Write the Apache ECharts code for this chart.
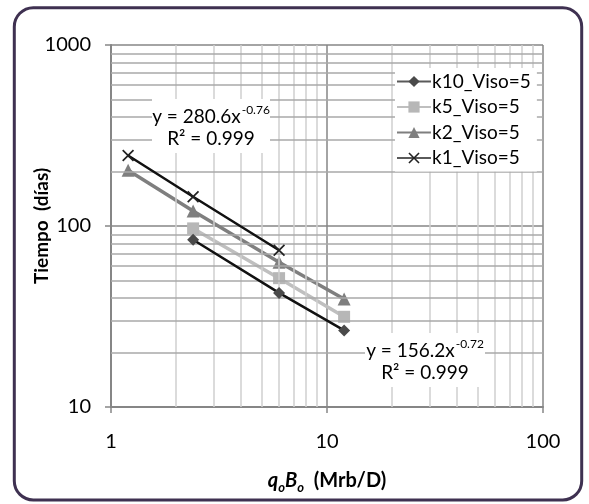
<!DOCTYPE html>
<html><head><meta charset="utf-8">
<script src="https://cdn.jsdelivr.net/npm/echarts@6/dist/echarts.min.js"></script>
<style>html,body{margin:0;padding:0;background:#fff}#c{width:589px;height:504px}</style>
</head><body><div id="c"></div>
<script>
// ---- data ----
const seriesNames = ['k10_Viso=5', 'k5_Viso=5', 'k2_Viso=5', 'k1_Viso=5'];
const xK10 = [2.4, 6, 12];
const yK10 = [84, 42.7, 26.5];
const xK5 = [2.4, 6, 12];
const yK5 = [97, 51.5, 31.5];
const xK2 = [1.2, 2.4, 6, 12];
const yK2 = [203, 121, 63, 39.5];
const xK1 = [1.2, 2.4, 6];
const yK1 = [245, 145, 73.5];
const xMinorTicks = [2,3,4,5,6,7,8,9,20,30,40,50,60,70,80,90];
const yMinorTicks = [20,30,40,50,60,70,80,90,200,300,400,500,600,700,800,900];
const eqTop = ['y = 280.6x', '-0.76', 'R² = 0.999'];
const eqBottom = ['y = 156.2x', '-0.72', 'R² = 0.999'];

const FONT = 'Lato';
const zip = (xs, ys) => xs.map((x, i) => [x, ys[i]]);
const xMark = 'path://M0,1L1,0L5,4L9,0L10,1L6,5L10,9L9,10L5,6L1,10L0,9L4,5Z';

const chart = echarts.init(document.getElementById('c'), null, {renderer: 'canvas'});
const gridSeries = {
  type: 'line', data: [], z: 0, silent: true,
  markLine: {
    silent: true, symbol: 'none', label: {show: false}, animation: false,
    data: [
      ...xMinorTicks.map(v => ({xAxis: v, lineStyle: {color: '#cfcfcf', width: 1.5, type: 'solid'}})),
      ...yMinorTicks.map(v => ({yAxis: v, lineStyle: {color: '#a8a8a8', width: 1.5, type: 'solid'}}))
    ]
  }
};
function eqBox(cx, cy, w, h, t) {
  return [
    {type: 'rect', z: 90, silent: true, shape: {x: cx - w/2, y: cy - h/2, width: w, height: h}, style: {fill: '#fff'}},
    {type: 'text', z: 95, silent: true, x: cx, y: cy - 11, style: {
      text: '{a|' + t[0] + '}{s|' + t[1] + '}', align: 'center', verticalAlign: 'middle',
      rich: {a: {fontFamily: FONT, fontSize: 19, fill: '#000', verticalAlign: 'bottom'},
             s: {fontFamily: FONT, fontSize: 12, fill: '#000', verticalAlign: 'bottom', padding: [0,0,10,1]}}
    }},
    {type: 'text', z: 95, silent: true, x: cx, y: cy + 13, style: {text: t[2], align: 'center', verticalAlign: 'middle',
      font: '19px ' + FONT, fill: '#000'}}
  ];
}
chart.setOption({
  animation: false,
  backgroundColor: '#fff',
  grid: {left: 111, right: 46, top: 45, bottom: 97, containLabel: false},
  xAxis: {
    type: 'log', logBase: 10, min: 1, max: 100,
    name: '{i|q}{s|o}{i|B}{s|o}{b|  (Mrb/D)}', nameLocation: 'middle', nameGap: 64, nameMoveOverlap: false,
    nameTextStyle: {rich: {
      i: {fontFamily: FONT, fontSize: 20, fontWeight: 'bold', fontStyle: 'italic', color: '#000', verticalAlign: 'bottom'},
      s: {fontFamily: FONT, fontSize: 13, fontWeight: 'bold', fontStyle: 'italic', color: '#000', verticalAlign: 'bottom', padding: [0,0,-3,0]},
      b: {fontFamily: FONT, fontSize: 20, fontWeight: 'bold', color: '#000', verticalAlign: 'bottom'}
    }},
    axisLine: {show: true, lineStyle: {color: '#868686', width: 2}},
    axisTick: {show: true, inside: false, length: 6, lineStyle: {color: '#868686', width: 1.5}},
    axisLabel: {fontFamily: FONT, fontSize: 20, color: '#000', margin: 25, formatter: v => String(v)},
    splitLine: {show: true, lineStyle: {color: '#868686', width: 1.5}},
    minorTick: {show: false}, minorSplitLine: {show: false}
  },
  yAxis: {
    type: 'log', logBase: 10, min: 10, max: 1000,
    name: 'Tiempo  (días)', nameLocation: 'middle', nameGap: 60, nameRotate: 90, nameMoveOverlap: false,
    nameTextStyle: {fontFamily: FONT, fontSize: 19, fontWeight: 'bold', color: '#000'},
    axisLine: {show: true, lineStyle: {color: '#868686', width: 2}},
    axisTick: {show: true, inside: false, length: 6, lineStyle: {color: '#868686', width: 1.5}},
    axisLabel: {fontFamily: FONT, fontSize: 20, color: '#000', margin: 20, formatter: v => String(v)},
    splitLine: {show: true, lineStyle: {color: '#868686', width: 1.5}},
    minorTick: {show: false}, minorSplitLine: {show: false}
  },
  legend: {
    orient: 'vertical', left: 395, top: 68, backgroundColor: '#fff', z: 50,
    padding: [4, 6, 4, 1], itemGap: 6.5, itemWidth: 34, itemHeight: 14,
    textStyle: {fontFamily: FONT, fontSize: 19, color: '#000', padding: [0,0,0,-4]},
    data: [
      {name: seriesNames[0], lineStyle: {color: '#5a5a5a'}},
      {name: seriesNames[1], lineStyle: {color: '#bfbfbf'}},
      {name: seriesNames[2], lineStyle: {color: '#7f7f7f'}},
      {name: seriesNames[3], lineStyle: {color: '#5a5a5a'}}
    ]
  },
  series: [
    gridSeries,
    {name: seriesNames[0], type: 'line', z: 5, data: zip(xK10, yK10), symbol: 'diamond', symbolSize: 12,
     itemStyle: {color: '#4a4a4a'}, lineStyle: {color: '#111', width: 2.5}},
    {name: seriesNames[1], type: 'line', z: 4, data: zip(xK5, yK5), symbol: 'rect', symbolSize: 12,
     itemStyle: {color: '#b7b7b7'}, lineStyle: {color: '#bfbfbf', width: 3.5}},
    {name: seriesNames[2], type: 'line', z: 4, data: zip(xK2, yK2), symbol: 'triangle', symbolSize: 13,
     itemStyle: {color: '#7f7f7f'}, lineStyle: {color: '#7f7f7f', width: 3.5}},
    {name: seriesNames[3], type: 'line', z: 6, data: zip(xK1, yK1), symbol: xMark, symbolSize: 12,
     itemStyle: {color: '#222'}, lineStyle: {color: '#111', width: 2.5}}
  ],
  graphic: [
    {type: 'rect', z: 100, silent: true, shape: {x: 14.3, y: 7.7, width: 567.4, height: 492.3, r: 19},
     style: {fill: 'none', stroke: '#3f3151', lineWidth: 3}},
    ...eqBox(211, 126, 118, 54, eqTop),
    ...eqBox(425, 360, 120, 54, eqBottom)
  ]
});
</script></body></html>
